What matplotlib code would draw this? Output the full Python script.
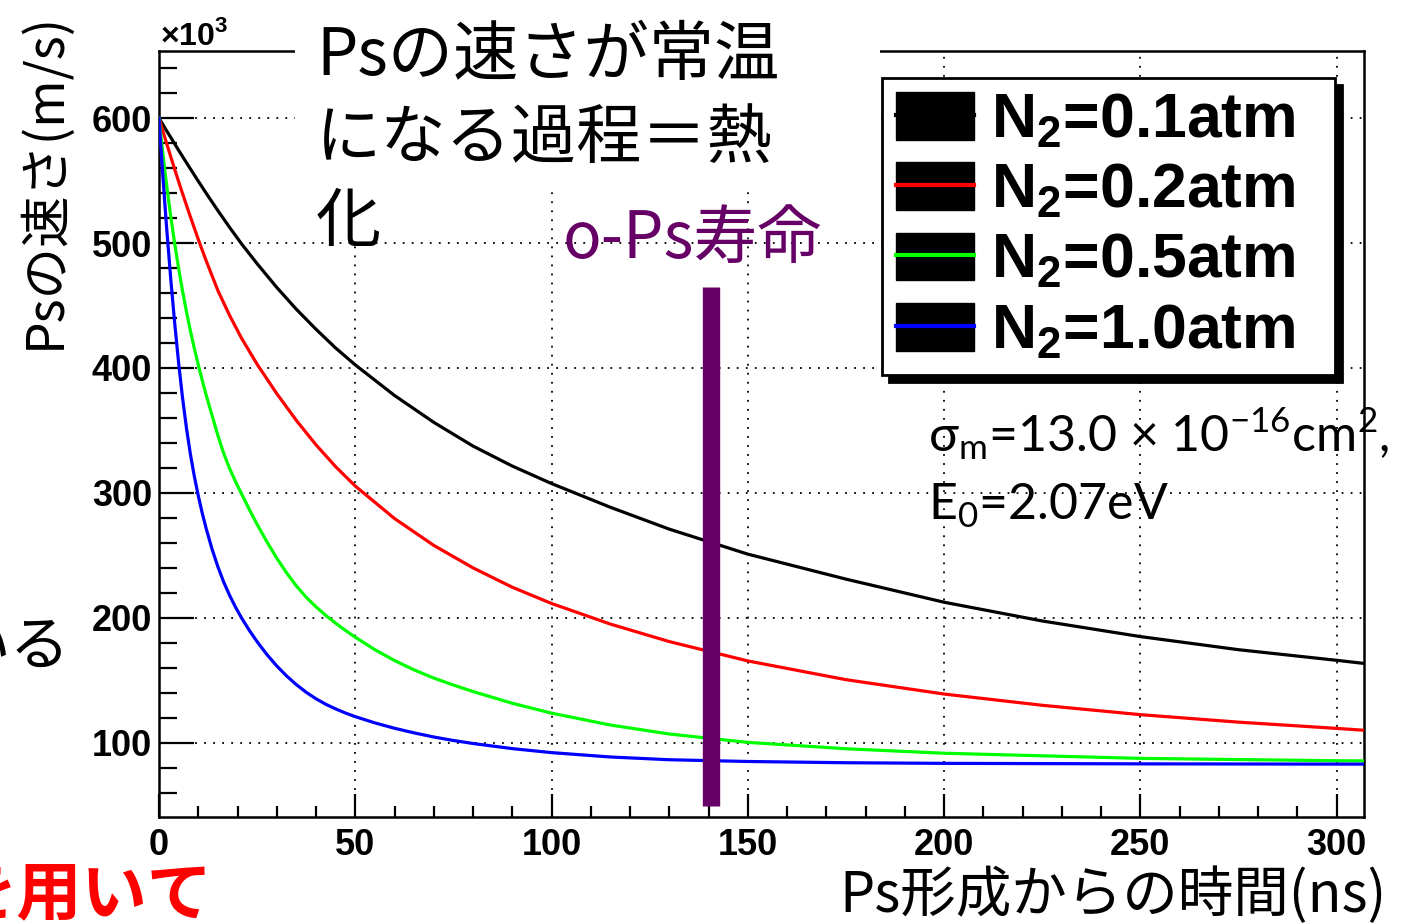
import matplotlib
matplotlib.use("Agg")
import matplotlib.pyplot as plt
from matplotlib.patches import Patch, Rectangle
from matplotlib.lines import Line2D
from matplotlib.legend_handler import HandlerTuple
from matplotlib.ticker import MultipleLocator

# time since Ps formation (ns): coarse grid for the slow curves, finer one for the fast ones
t_slow = [0, 1, 2, 3, 4, 5, 6, 8, 10, 12, 15, 18, 21, 25, 30, 35, 40, 45, 50,
          60, 70, 80, 90, 100, 115, 130, 150, 175, 200, 225, 250, 275, 300, 307]
t_fast = [0, 0.5, 1, 1.5, 2, 3, 4, 5, 6, 7, 8, 9, 10, 11, 12, 13.5, 15, 16.5, 18, 19.5,
          21, 23, 25, 27.5, 30, 32.5, 35, 37.5, 40, 42.5, 45, 47.5, 50, 55, 60, 65, 70,
          75, 80, 90, 100, 115, 130, 150, 175, 200, 250, 300, 307]

# Ps speed (x10^3 m/s)
v_01atm = [600, 594.8, 589.6, 584.5, 579.4, 574.3, 569.3, 559.4, 549.6, 540, 526, 512.5, 499.5,
           483.5, 464.5, 447, 431, 416, 402.5, 378, 356.5, 337.5, 321.5, 307.5, 288.5, 271, 251,
           231, 212.5, 197.5, 185, 174.5, 166, 163.5]
v_02atm = [600, 589.5, 579.2, 569, 559, 549.2, 539.6, 521, 503, 486, 462, 442, 424,
           403, 379.5, 358, 338.5, 321, 305.5, 279.5, 258, 240, 224.5, 211.5, 195, 181, 165.5,
           150.5, 139, 130, 122.5, 116.5, 111.5, 110]
v_05atm = [600, 585.3, 571.2, 557.8, 545, 521.2, 499.5, 479.7, 461.6, 445, 429.7, 415.7,
           402.7, 390.3, 378.5, 362.2, 346, 331.5, 319.5, 309, 299.5, 286.8, 274.8, 260.8,
           247.8, 236, 225.5, 216.5, 208.8, 201.9, 195.7, 189.9, 184.5, 174.5, 165.8, 158.3,
           151.8, 146.2, 141, 131.6, 123.7, 114.2, 107, 100.3, 95.2, 91.6, 87.5, 85.6, 85.5]
v_10atm = [600, 576, 553, 531, 510, 471, 435.8, 404, 376, 351.8, 331, 313.3, 297.8, 284,
           271.7, 255.2, 240.9, 228.5, 217.9, 208.5, 200.1, 190, 180.9, 170.6, 161.5, 153.5,
           146.5, 140.4, 135.2, 130.8, 127.1, 123.8, 120.9, 115.9, 111.6, 107.9, 104.6,
           101.8, 99.4, 95.3, 92.1, 88.6, 86.4, 85, 84, 83.5, 83.1, 82.9, 82.9]

series = [(t_slow, v_01atm), (t_slow, v_02atm), (t_fast, v_05atm), (t_fast, v_10atm)]
labels = [r"N$_\mathbf{2}$=0.1atm", r"N$_\mathbf{2}$=0.2atm",
          r"N$_\mathbf{2}$=0.5atm", r"N$_\mathbf{2}$=1.0atm"]
colors = ["#000000", "#ff0000", "#00ff00", "#0000ff"]

ops_lifetime = 140.6          # ns
ops_bar_range = (49, 465)     # x10^3 m/s

W, H = 1405, 923


def fx(px):
    return px / W


def fy(py):
    return 1 - py / H


plt.rcParams["mathtext.fontset"] = "custom"
plt.rcParams["mathtext.rm"] = "Lato"
plt.rcParams["mathtext.bf"] = "Liberation Sans:bold"

jp = ["Noto Sans CJK JP", "DejaVu Sans"]

fig = plt.figure(figsize=(W / 100, H / 100), dpi=100)
ax = fig.add_axes([fx(159), fy(816.7), fx(1364) - fx(159), fy(50.7) - fy(816.7)])

for (t, v), c in zip(series, colors):
    ax.plot(t, v, color=c, lw=2.3, zorder=3)

ax.vlines(ops_lifetime, ops_bar_range[0], ops_bar_range[1], color="#660066",
          lw=12.5, zorder=4)

ax.set_xlim(0, 307)
ax.set_ylim(40.8, 654)
ax.xaxis.set_major_locator(MultipleLocator(50))
ax.xaxis.set_minor_locator(MultipleLocator(10))
ax.yaxis.set_major_locator(MultipleLocator(100))
ax.yaxis.set_minor_locator(MultipleLocator(20))
ax.grid(True, which="major", color="black", ls=(0, (1, 4)), lw=1.3)

ax.tick_params(axis="y", which="major", direction="in", length=25, width=1.6, pad=5)
ax.tick_params(axis="y", which="minor", direction="in", length=13, width=1.6)
ax.tick_params(axis="x", which="major", direction="in", length=16.5, width=1.6, pad=8)
ax.tick_params(axis="x", which="minor", direction="in", length=8, width=1.6)
for lab in ax.get_xticklabels() + ax.get_yticklabels():
    lab.set_family("Liberation Sans")
    lab.set_fontweight("bold")
    lab.set_fontsize(26)
for sp in ax.spines.values():
    sp.set_linewidth(1.8)

handles = [(Patch(facecolor="black", edgecolor="black"), Line2D([], [], color=c, lw=3))
           for c in colors]
leg_box = (fx(882), fy(365), fx(1335) - fx(882), fy(78) - fy(365))
leg = ax.legend(handles, labels, handler_map={tuple: HandlerTuple(ndivide=1, pad=0)},
                loc="upper left", bbox_to_anchor=leg_box, mode="expand",
                bbox_transform=fig.transFigure, borderaxespad=0,
                prop={"family": "Liberation Sans", "weight": "bold", "size": 45},
                handlelength=1.25, handleheight=0.8, handletextpad=0.27,
                borderpad=0.22, labelspacing=0.18, fancybox=False, framealpha=1,
                edgecolor="black",
                shadow={"ox": 5, "oy": -5, "color": "black", "alpha": 1})
leg.get_frame().set_linewidth(2)
leg.set_zorder(6)

# white box of the overlapping slide text
fig.add_artist(Rectangle((fx(295), fy(187)), fx(880) - fx(295), 1 - fy(187),
                         transform=fig.transFigure, facecolor="white",
                         edgecolor="none", zorder=3))
fig.add_artist(Rectangle((fx(300), fy(242)), fx(395) - fx(300), fy(187) - fy(242),
                         transform=fig.transFigure, facecolor="white",
                         edgecolor="none", zorder=3))
fig.text(fx(316), fy(241), "Psの速さが常温\nになる過程＝熱\n化", family=jp, fontsize=47,
         va="baseline", ha="left", linespacing=1.32, zorder=4)

fig.text(fx(563), fy(258), "o-Ps寿命", family=jp, fontsize=46, color="#660066",
         va="baseline", ha="left", zorder=4)

fig.text(fx(928), fy(452), r"σ$_{\mathrm{m}}$=13.0 × 10$^{\mathrm{-16}}$cm$^{\mathrm{2}}$,",
         family=["Lato", "DejaVu Sans"], fontsize=36, va="baseline", ha="left", zorder=4)
fig.text(fx(928), fy(520), r"E$_{\mathrm{0}}$=2.07eV",
         family=["Lato", "DejaVu Sans"], fontsize=36, va="baseline", ha="left", zorder=4)

fig.text(fx(160), fy(45), r"×10$^{\mathbf{3}}$", family="Liberation Sans",
         fontweight="bold", fontsize=23, va="baseline", ha="left")

fig.text(fx(45), fy(180), "Psの速さ(m/s)", family=jp, fontsize=37, rotation=90,
         ha="center", va="center")
fig.text(fx(1387), fy(912), "Ps形成からの時間(ns)", family=jp, fontsize=40,
         ha="right", va="baseline")

# fragments of the surrounding slide text
fig.text(fx(70), fy(665), "いる", family=jp, fontsize=43, ha="right", va="baseline")
fig.text(fx(212), fy(862), "を用いて", family=jp, fontsize=47, fontweight="bold",
         color="#ff0000", ha="right", va="top")

fig.savefig("out.png", dpi=100)
